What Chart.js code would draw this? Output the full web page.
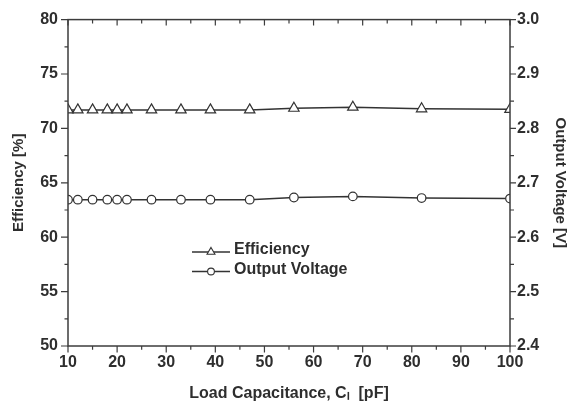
<!DOCTYPE html>
<html><head><meta charset="utf-8">
<script src="https://cdn.jsdelivr.net/npm/chart.js@4"></script>
<style>html,body{margin:0;padding:0;background:#fff}canvas{display:block}</style>
</head><body>
<canvas id="c" width="569" height="405"></canvas>
<script>
// ---- data ----
const capacitance   = [10, 12, 15, 18, 20, 22, 27, 33, 39, 47, 56, 68, 82, 100];
const efficiency    = [71.7, 71.7, 71.7, 71.7, 71.7, 71.7, 71.7, 71.7, 71.7, 71.7, 71.85, 71.95, 71.8, 71.75];
const outputVoltage = [2.669, 2.669, 2.669, 2.669, 2.669, 2.669, 2.669, 2.669, 2.669, 2.669, 2.673, 2.675, 2.672, 2.671];
const seriesNames   = ['Efficiency', 'Output Voltage'];
const xTicks    = [10, 20, 30, 40, 50, 60, 70, 80, 90, 100];
const xMinor    = [15, 25, 35, 45, 55, 65, 75, 85, 95];
const effTicks  = [50, 55, 60, 65, 70, 75, 80];
const effMinor  = [52.5, 57.5, 62.5, 67.5, 72.5, 77.5];
const voltTicks = [2.4, 2.5, 2.6, 2.7, 2.8, 2.9, 3.0];
const voltMinor = [2.45, 2.55, 2.65, 2.75, 2.85, 2.95];
const xTitle  = 'Load Capacitance, C\u2097  [pF]';
const yTitle  = 'Efficiency [%]';
const y2Title = 'Output Voltage [V]';

// ---- style ----
const FONT = "'Liberation Sans', Arial, Helvetica, sans-serif";
const TEXT = '#2e2e2e';
const AXIS = '#3c3c3c';
const LINE = '#333333';

const axesPlugin = {
  id: 'axesPlugin',
  afterDatasetsDraw(chart) {
    const {ctx, chartArea: a, scales: {x, y, y2}} = chart;
    ctx.save();
    ctx.strokeStyle = AXIS;
    ctx.lineWidth = 1.5;
    ctx.strokeRect(a.left, a.top, a.right - a.left, a.bottom - a.top);
    ctx.lineWidth = 1.2;
    ctx.beginPath();
    const seg = (x1, y1, x2, y2_) => { ctx.moveTo(x1, y1); ctx.lineTo(x2, y2_); };
    xTicks.forEach(v => { const p = x.getPixelForValue(v); seg(p, a.bottom, p, a.bottom + 6.5); seg(p, a.top, p, a.top + 6); });
    xMinor.forEach(v => { const p = x.getPixelForValue(v); seg(p, a.bottom, p, a.bottom + 3.7); seg(p, a.top, p, a.top + 4); });
    effTicks.forEach(v => { const p = y.getPixelForValue(v); seg(a.left - 7, p, a.left, p); });
    effMinor.forEach(v => { const p = y.getPixelForValue(v); seg(a.left - 3.5, p, a.left, p); });
    voltTicks.forEach(v => { const p = y2.getPixelForValue(v); seg(a.right, p, a.right + 6, p); });
    voltMinor.forEach(v => { const p = y2.getPixelForValue(v); seg(a.right, p, a.right + 4, p); });
    ctx.stroke();
    ctx.restore();
  }
};

const legendPlugin = {
  id: 'insideLegend',
  afterDraw(chart) {
    const {ctx, chartArea: a} = chart;
    const rows = [
      {label: chart.data.datasets[0].label, style: 'triangle', r: 4.6, ly: 252, ty: 250},
      {label: chart.data.datasets[1].label, style: 'circle', r: 3.4, ly: 271.5, ty: 269.5}
    ];
    ctx.save();
    rows.forEach(rw => {
      const x0 = a.left + 124, x1 = a.left + 162, yy = rw.ly;
      ctx.strokeStyle = LINE; ctx.lineWidth = 1.4;
      ctx.beginPath(); ctx.moveTo(x0, yy); ctx.lineTo(x1, yy); ctx.stroke();
      ctx.fillStyle = '#fff'; ctx.strokeStyle = LINE; ctx.lineWidth = 1.1;
      Chart.helpers.drawPoint(ctx, {pointStyle: rw.style, radius: rw.r, borderWidth: 1.1, rotation: 0}, (x0 + x1) / 2, yy);
      ctx.fillStyle = TEXT;
      ctx.font = 'bold 16px ' + FONT;
      ctx.textBaseline = 'middle';
      ctx.textAlign = 'left';
      ctx.fillText(rw.label, a.left + 166, rw.ty);
    });
    ctx.restore();
  }
};

new Chart(document.getElementById('c'), {
  type: 'line',
  data: {
    datasets: [
      {
        label: seriesNames[0], yAxisID: 'y',
        data: capacitance.map((c, i) => ({x: c, y: efficiency[i]})),
        borderColor: LINE, borderWidth: 1.5, tension: 0, clip: 0,
        pointStyle: 'triangle', pointRadius: 6, pointBackgroundColor: '#fff',
        pointBorderColor: LINE, pointBorderWidth: 1.2
      },
      {
        label: seriesNames[1], yAxisID: 'y2',
        data: capacitance.map((c, i) => ({x: c, y: outputVoltage[i]})),
        borderColor: LINE, borderWidth: 1.5, tension: 0, clip: 0,
        pointStyle: 'circle', pointRadius: 4.3, pointBackgroundColor: '#fff',
        pointBorderColor: LINE, pointBorderWidth: 1.2
      }
    ]
  },
  options: {
    responsive: false, animation: false, events: [],
    layout: {padding: {top: 19, left: 0, right: 0, bottom: 0}},
    plugins: {legend: {display: false}, tooltip: {enabled: false}},
    scales: {
      x: {
        type: 'linear', min: 10, max: 100,
        afterBuildTicks: s => { s.ticks = xTicks.map(v => ({value: v})); },
        afterFit: s => { s.height = 59; },
        grid: {display: false, drawTicks: false}, border: {display: false},
        ticks: {padding: 7, color: TEXT, font: {family: FONT, size: 16, weight: 'bold'}, maxRotation: 0, autoSkip: false},
        title: {display: true, text: xTitle, color: TEXT, padding: {top: 0, bottom: 3},
                font: {family: FONT, size: 16, weight: 'bold', lineHeight: 1}}
      },
      y: {
        type: 'linear', position: 'left', min: 50, max: 80,
        afterBuildTicks: s => { s.ticks = effTicks.map(v => ({value: v})); },
        afterFit: s => { s.width = 68; },
        grid: {display: false, drawTicks: false}, border: {display: false},
        ticks: {padding: 10, color: TEXT, font: {family: FONT, size: 16, weight: 'bold'}},
        title: {display: true, text: yTitle, color: TEXT, padding: {top: 11, bottom: 0},
                font: {family: FONT, size: 15, weight: 'bold', lineHeight: 1}}
      },
      y2: {
        type: 'linear', position: 'right', min: 2.4, max: 3.0,
        afterBuildTicks: s => { s.ticks = voltTicks.map(v => ({value: v})); },
        afterFit: s => { s.width = 59; },
        grid: {display: false, drawTicks: false}, border: {display: false},
        ticks: {padding: 7, color: TEXT, font: {family: FONT, size: 16, weight: 'bold'},
                callback: v => Number(v).toFixed(1)},
        title: {display: true, text: y2Title, color: TEXT, padding: {top: 1, bottom: 0},
                font: {family: FONT, size: 15, weight: 'bold', lineHeight: 1}}
      }
    }
  },
  plugins: [axesPlugin, legendPlugin]
});
</script>
</body></html>
